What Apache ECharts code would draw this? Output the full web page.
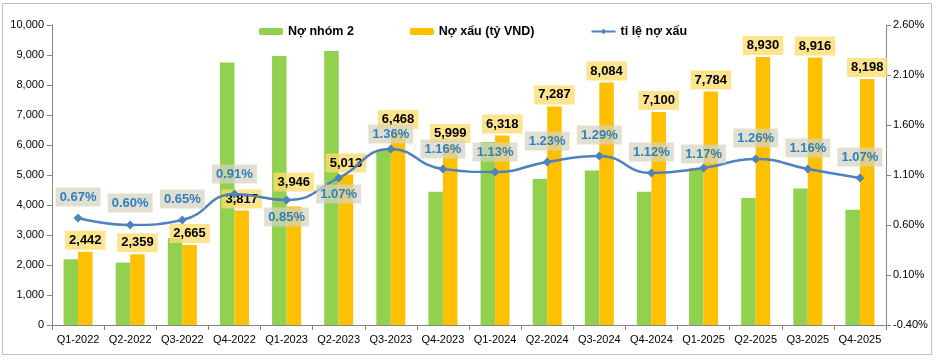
<!DOCTYPE html>
<html><head><meta charset="utf-8">
<script src="https://cdn.jsdelivr.net/npm/echarts@6/dist/echarts.min.js"></script>
<style>html,body{margin:0;padding:0;background:#fff}#c{width:936px;height:360px}</style>
</head><body><div id="c"></div>
<script>
const categories = ['Q1-2022','Q2-2022','Q3-2022','Q4-2022','Q1-2023','Q2-2023','Q3-2023','Q4-2023','Q1-2024','Q2-2024','Q3-2024','Q4-2024','Q1-2025','Q2-2025','Q3-2025','Q4-2025'];
const nhom2 = [2190, 2080, 2890, 8750, 8970, 9130, 5850, 4440, 6100, 4870, 5150, 4440, 5220, 4230, 4550, 3840];
const noXau = [2442, 2359, 2665, 3817, 3946, 5013, 6468, 5999, 6318, 7287, 8084, 7100, 7784, 8930, 8916, 8198];
const tiLe = [0.67, 0.60, 0.65, 0.91, 0.85, 1.07, 1.36, 1.16, 1.13, 1.23, 1.29, 1.12, 1.17, 1.26, 1.16, 1.07];
const seriesNames = ['Nợ nhóm 2', 'Nợ xấu (tỷ VND)', 'tỉ lệ nợ xấu'];

const FONT = 'Liberation Sans';
const linePos = ['top','top','top','top','bottom','bottom','top','top','top','top','top','top','top','top','top','top'];
const lineDist = [7,8,7,6,3,2,1,6,6,7,7,7,0,7,7,7];
const barDist = noXau.map((v,i)=> i===4 ? 15 : 2);

const chart = echarts.init(document.getElementById('c'), null, {renderer:'canvas'});
chart.setOption({
  animation:false,
  backgroundColor:'#fff',
  textStyle:{fontFamily:FONT},
  graphic:[{type:'rect', shape:{x:2.5,y:3.5,width:929,height:351}, style:{fill:'none', stroke:'#BFBFBF', lineWidth:1}, silent:true}],
  legend:{
    left:254, top:20, itemWidth:24, itemHeight:7, itemGap:56,
    textStyle:{fontFamily:FONT, fontWeight:'bold', fontSize:12.5, color:'#000'},
    data:seriesNames
  },
  grid:{left:52, right:50, top:25, bottom:35},
  xAxis:{
    type:'category', data:categories, boundaryGap:true,
    axisLine:{lineStyle:{color:'#868686'}},
    axisTick:{show:true, length:5, lineStyle:{color:'#868686'}},
    axisLabel:{fontFamily:FONT, fontSize:11, color:'#000', margin:9, interval:0}
  },
  yAxis:[{
    type:'value', min:0, max:10000, interval:1000,
    axisLine:{show:true, lineStyle:{color:'#868686'}},
    axisTick:{show:true, length:5, lineStyle:{color:'#868686'}},
    splitLine:{show:false},
    axisLabel:{fontFamily:FONT, fontSize:11, color:'#000', margin:8,
      formatter:v=>v.toLocaleString('en-US')}
  },{
    type:'value', min:-0.4, max:2.6, interval:0.5, position:'right',
    axisLine:{show:true, lineStyle:{color:'#868686'}},
    axisTick:{show:true, length:5, lineStyle:{color:'#868686'}},
    splitLine:{show:false},
    axisLabel:{fontFamily:FONT, fontSize:11, color:'#000', margin:7,
      formatter:v=>v.toFixed(2)+'%'}
  }],
  series:[{
    name:seriesNames[0], type:'bar', data:nhom2, barWidth:14.5, barGap:'0%',
    itemStyle:{color:'#92D050'}, z:2
  },{
    name:seriesNames[1], type:'bar', data:noXau.map((v,i)=>({value:v, label:{distance:barDist[i]}})), barWidth:14.5,
    itemStyle:{color:'#FFC000'}, z:2,
    label:{show:true, position:'top', color:'#000', fontFamily:FONT, fontWeight:'bold', fontSize:13,
      backgroundColor:'rgba(255,220,110,0.78)', padding:[3,4,3,4],
      formatter:p=>p.value.toLocaleString('en-US')}
  },{
    name:seriesNames[2], type:'line', yAxisIndex:1, smooth:true,
    data:tiLe.map((v,i)=>({value:v, label:{position:linePos[i], distance:lineDist[i]}})),
    symbol:'diamond', symbolSize:9,
    lineStyle:{color:'#4F81BD', width:2.5}, itemStyle:{color:'#4F81BD'}, z:5,
    label:{show:true, color:'#2F7FC1', fontFamily:FONT, fontWeight:'bold', fontSize:13,
      backgroundColor:'rgba(214,210,190,0.72)', padding:[3,4,3,4],
      formatter:p=>p.value.toFixed(2)+'%'}
  }]
});
</script></body></html>
